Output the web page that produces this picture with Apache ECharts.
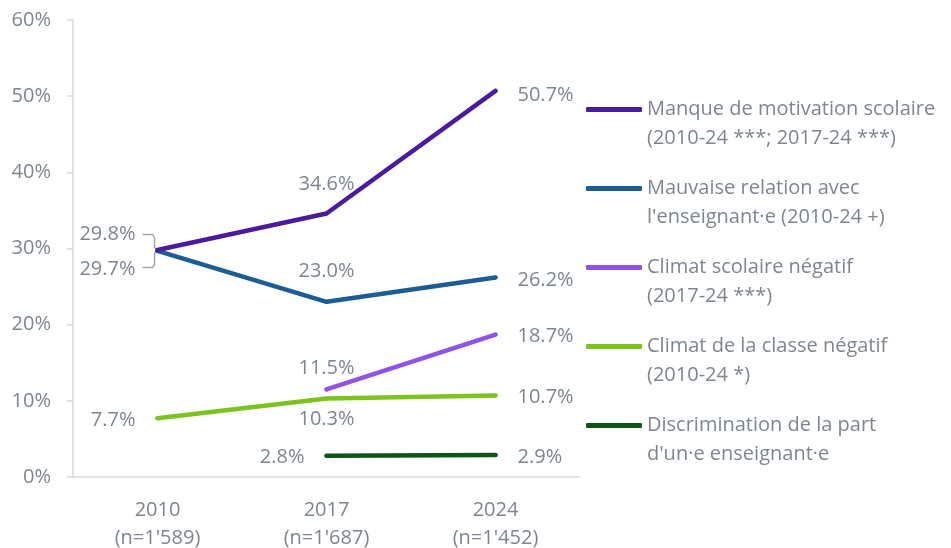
<!DOCTYPE html>
<html>
<head>
<meta charset="utf-8">
<script src="https://cdn.jsdelivr.net/npm/echarts@6/dist/echarts.min.js"></script>
<style>
  html, body { margin: 0; padding: 0; background: #fff; }
  #chart { width: 951px; height: 548px; }
</style>
</head>
<body>
<div id="chart"></div>
<script>
// données
const years = ['2010', '2017', '2024'];
const sampleSizes = ["1'589", "1'687", "1'452"];
const yTicks = [0, 10, 20, 30, 40, 50, 60];

const seriesNames = [
  'Manque de motivation scolaire',
  'Mauvaise relation avec',
  'Climat scolaire négatif',
  'Climat de la classe négatif',
  'Discrimination de la part'
];
const legendSecondLines = [
  '(2010-24 ***; 2017-24 ***)',
  "l'enseignant·e (2010-24 +)",
  '(2017-24 ***)',
  '(2010-24 *)',
  "d'un·e enseignant·e"
];

const motivation = [29.8, 34.6, 50.7];
const relation = [29.7, 23.0, 26.2];
const climatScolaire = [null, 11.5, 18.7];
const climatClasse = [7.7, 10.3, 10.7];
const discrimination = [null, 2.8, 2.9];
const allValues = [motivation, relation, climatScolaire, climatClasse, discrimination];

const colors = ['#4b1b9e', '#1c5d95', '#8f53e6', '#7dc31f', '#0b5516'];

// placement des étiquettes : [position, distance, décalage vertical]
const labelPlacements = [
  [['left', 20, -16], ['top', 17, 0], ['right', 20, 4]],
  [['left', 20, 19], ['top', 19, 0], ['right', 20, 3]],
  [null, ['top', 9, 0], ['right', 20, 2]],
  [['left', 20, 2], ['bottom', 9, 0], ['right', 20, 2]],
  [null, ['left', 20, 2], ['right', 20, 2]]
];

const textColor = '#7d8690';
const axisColor = '#d9d9d9';
const fontFamily = '"Open Sans", Lato, sans-serif';
const fontSize = 20;
const legendFontSize = 20;

const chart = echarts.init(document.getElementById('chart'));

const series = allValues.map((vals, s) => ({
  name: seriesNames[s],
  type: 'line',
  symbol: 'circle',
  symbolSize: 4,
  color: colors[s],
  lineStyle: { width: 4.5, cap: 'round', join: 'round' },
  connectNulls: false,
  z: 10 - s,
  data: vals.map((v, i) => {
    const p = labelPlacements[s][i];
    if (v === null) return null;
    return {
      value: v,
      label: {
        show: true,
        position: p[0],
        distance: p[1],
        offset: [0, p[2]],
        formatter: v.toFixed(1) + '%',
        color: textColor,
        fontSize: fontSize,
        fontFamily: fontFamily
      }
    };
  })
}));

chart.setOption({
  animation: false,
  grid: { left: 73, top: 20, right: 371, bottom: 71, outerBoundsMode: 'none' },
  legend: {
    orient: 'vertical',
    left: 586,
    top: 66,
    padding: 0,
    itemGap: -8,
    itemWidth: 56,
    itemHeight: 5,
    icon: 'roundRect',
    selectedMode: false,
    data: seriesNames,
    // ligne vide en tête pour aligner l'icône sur la première ligne
    formatter: name => '\n' + name + '\n' + legendSecondLines[seriesNames.indexOf(name)],
    textStyle: {
      color: textColor,
      fontSize: legendFontSize,
      fontFamily: fontFamily,
      lineHeight: 29
    }
  },
  xAxis: {
    type: 'category',
    data: years,
    boundaryGap: true,
    axisLine: { lineStyle: { color: axisColor, width: 1.5 } },
    axisTick: { alignWithLabel: true, length: 6, lineStyle: { color: axisColor, width: 1.5 } },
    axisLabel: {
      margin: 19,
      color: textColor,
      fontSize: fontSize,
      fontFamily: fontFamily,
      lineHeight: 28,
      formatter: (v, i) => v + '\n(n=' + sampleSizes[i] + ')'
    }
  },
  yAxis: {
    type: 'value',
    min: yTicks[0],
    max: yTicks[yTicks.length - 1],
    interval: 10,
    splitLine: { show: false },
    axisLine: { show: true, lineStyle: { color: axisColor, width: 1.5 } },
    axisTick: { show: true, length: 6, lineStyle: { color: axisColor, width: 1.5 } },
    axisLabel: {
      margin: 22,
      color: textColor,
      fontSize: fontSize,
      fontFamily: fontFamily,
      formatter: '{value}%'
    }
  },
  series: series
});

// accolade grise reliant 29.8% et 29.7%
const pt = chart.convertToPixel({ seriesIndex: 0 }, [0, (motivation[0] + relation[0]) / 2]);
const bx = pt[0], by = pt[1];
chart.setOption({
  graphic: [{
    type: 'polyline',
    shape: {
      points: [
        [bx - 15, by - 16], [bx - 5, by - 16], [bx - 3, by - 13], [bx - 3, by - 3],
        [bx, by], [bx - 3, by + 3], [bx - 3, by + 14], [bx - 5, by + 17], [bx - 15, by + 17]
      ]
    },
    style: { stroke: '#a6a6a6', lineWidth: 1.5, fill: null },
    z: 1
  }]
});
</script>
</body>
</html>
